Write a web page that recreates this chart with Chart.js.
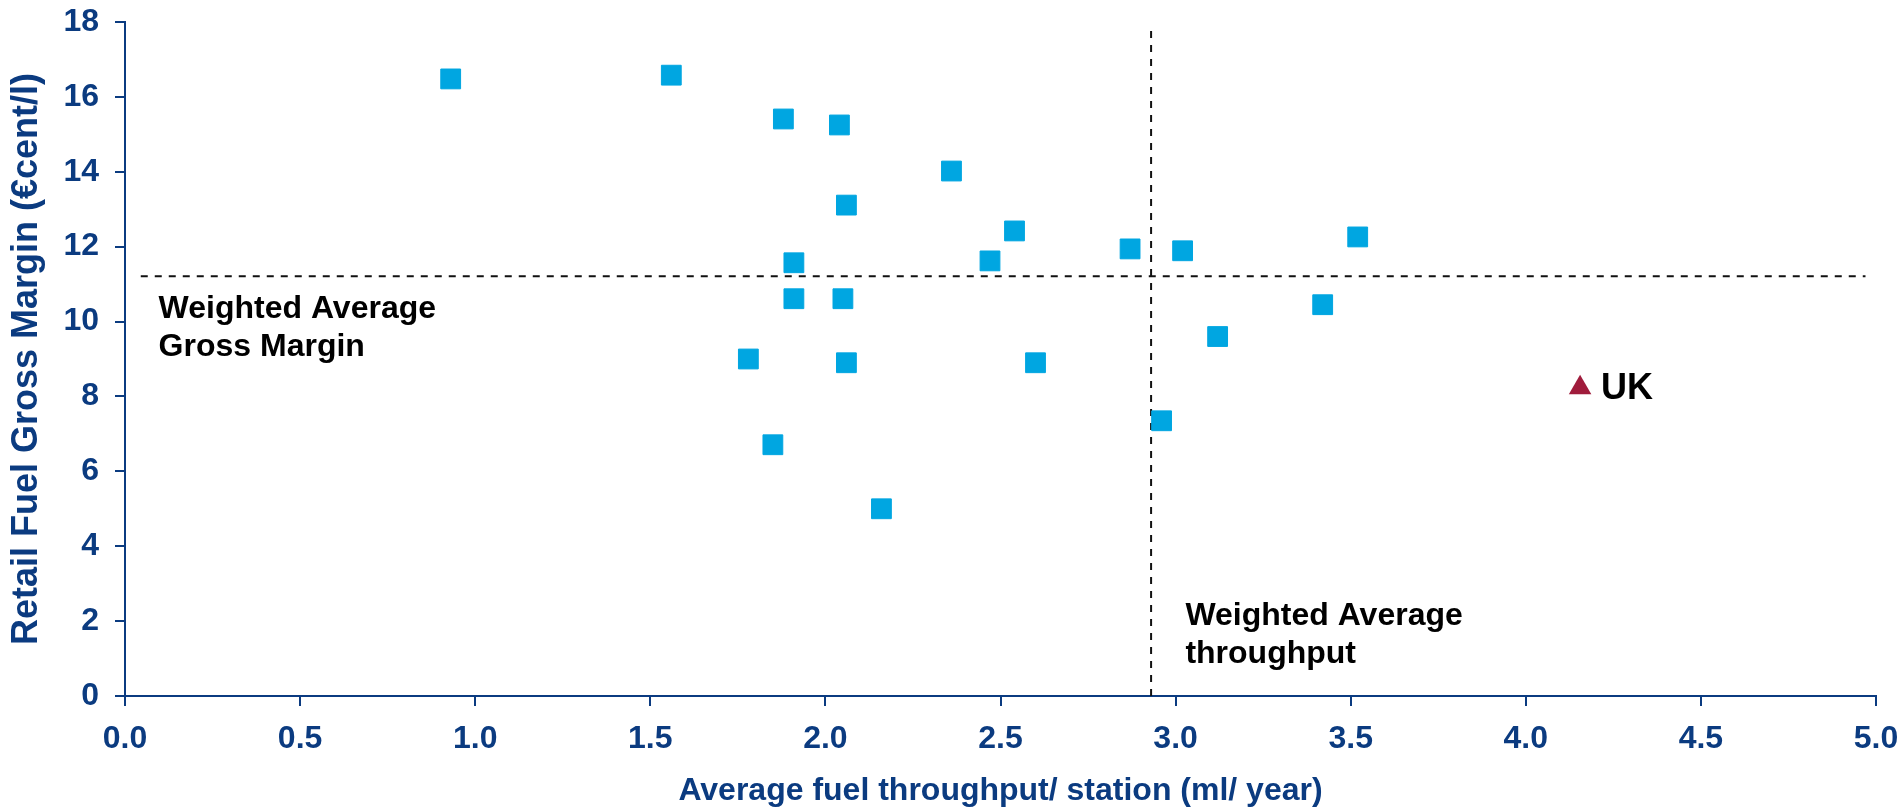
<!DOCTYPE html>
<html>
<head>
<meta charset="utf-8">
<script src="https://cdn.jsdelivr.net/npm/chart.js@4.4.1/dist/chart.umd.min.js"></script>
<style>
    html, body { margin: 0; padding: 0; background: #ffffff; }
    #wrap { width: 1899px; height: 807px; }
</style>
</head>
<body>
<div id="wrap"><canvas id="marginChart"></canvas></div>
<script>
// Average fuel throughput per station (ml/year) vs retail fuel gross margin (€cent/l)
const throughput = [0.93, 1.56, 1.88, 2.04, 2.36, 2.06, 2.54, 2.47, 1.91, 2.87, 1.91,
    2.05, 1.78, 2.06, 2.60, 2.96, 1.85, 2.16, 3.02, 3.52, 3.42, 3.12];
const grossMargin = [16.48, 16.58, 15.41, 15.25, 14.02, 13.11, 12.42, 11.62, 11.57, 11.94, 10.61,
    10.61, 9.00, 8.90, 8.90, 7.35, 6.71, 5.00, 11.89, 12.26, 10.45, 9.60];
const ukThroughput = [4.155];
const ukMargin = [8.23];
const ukLabel = 'UK';

// weighted averages (dashed reference lines)
const avgThroughput = 2.93;
const avgMargin = 11.21;
const avgThroughputRange = [0, 17.9];
const avgMarginRange = [0.045, 4.97];

const xTicks = [0, 0.5, 1, 1.5, 2, 2.5, 3, 3.5, 4, 4.5, 5];
const yTicks = [0, 2, 4, 6, 8, 10, 12, 14, 16, 18];

const marginNote = ['Weighted Average', 'Gross Margin'];
const throughputNote = ['Weighted Average', 'throughput'];

const NAVY = '#0b3b80';
const FONT = '"Liberation Sans", Arial, sans-serif';

// annotation text drawn straight onto the canvas
const notesPlugin = {
    id: 'notes',
    afterDatasetsDraw(chart) {
        const ctx = chart.ctx;
        const xs = chart.scales.x;
        const ys = chart.scales.y;
        ctx.save();
        ctx.fillStyle = '#000000';
        ctx.textBaseline = 'alphabetic';
        ctx.textAlign = 'left';
        ctx.font = 'bold 32px ' + FONT;

        let px = xs.getPixelForValue(0.096);
        let py = ys.getPixelForValue(10.1);
        marginNote.forEach((t, i) => ctx.fillText(t, px, py + i * 38));

        px = xs.getPixelForValue(3.028);
        py = ys.getPixelForValue(1.89);
        throughputNote.forEach((t, i) => ctx.fillText(t, px, py + i * 38));

        ctx.font = 'bold 36px ' + FONT;
        ctx.textBaseline = 'middle';
        ctx.fillText(ukLabel, xs.getPixelForValue(ukThroughput[0]) + 21, ys.getPixelForValue(ukMargin[0]) + 1);
        ctx.restore();
    }
};

const ctx = document.getElementById('marginChart').getContext('2d');
new Chart(ctx, {
    type: 'scatter',
    data: {
        datasets: [{
            label: 'Countries',
            data: throughput.map((x, i) => ({ x: x, y: grossMargin[i] })),
            backgroundColor: '#00a6e1',
            borderColor: '#00a6e1',
            borderWidth: 1,
            pointStyle: 'rect',
            pointRadius: 14,
            order: 1
        },
        {
            label: 'UK',
            data: ukThroughput.map((x, i) => ({ x: x, y: ukMargin[i] })),
            backgroundColor: '#a01c3c',
            borderColor: '#a01c3c',
            borderWidth: 0,
            pointStyle: 'triangle',
            pointRadius: 13,
            order: 1
        },
        {
            label: 'Weighted average throughput',
            data: avgThroughputRange.map(y => ({ x: avgThroughput, y: y })),
            showLine: true,
            borderColor: '#111111',
            borderWidth: 2,
            borderDash: [7, 7],
            pointRadius: 0,
            order: 2
        },
        {
            label: 'Weighted average gross margin',
            data: avgMarginRange.map(x => ({ x: x, y: avgMargin })),
            showLine: true,
            borderColor: '#111111',
            borderWidth: 2,
            borderDash: [7, 7],
            pointRadius: 0,
            order: 2
        }]
    },
    options: {
        responsive: true,
        maintainAspectRatio: false,
        animation: false,
        layout: {
            padding: { top: 22, right: 23, left: 0, bottom: 0 }
        },
        plugins: {
            legend: { display: false },
            tooltip: { enabled: false }
        },
        scales: {
            x: {
                type: 'linear',
                min: xTicks[0],
                max: xTicks[xTicks.length - 1],
                afterBuildTicks: scale => { scale.ticks = xTicks.map(v => ({ value: v })); },
                afterFit: scale => {
                    scale.height = 111;
                    scale.paddingLeft = 0;
                    scale.paddingRight = 0;
                },
                grid: { display: true, drawOnChartArea: false, color: NAVY, lineWidth: 2, tickLength: 10 },
                border: { display: true, color: NAVY, width: 2 },
                ticks: {
                    color: NAVY,
                    padding: 14,
                    font: { family: FONT, size: 32, weight: 'bold' },
                    callback: v => v.toFixed(1)
                },
                title: {
                    display: true,
                    text: 'Average fuel throughput/ station (ml/ year)',
                    color: NAVY,
                    font: { family: FONT, size: 32, weight: 'bold', lineHeight: 1.0 },
                    padding: { top: 0, bottom: 0 }
                }
            },
            y: {
                type: 'linear',
                min: yTicks[0],
                max: yTicks[yTicks.length - 1],
                afterBuildTicks: scale => { scale.ticks = yTicks.map(v => ({ value: v })); },
                afterFit: scale => {
                    scale.width = 125;
                    scale.paddingTop = 0;
                    scale.paddingBottom = 0;
                },
                grid: { display: true, drawOnChartArea: false, color: NAVY, lineWidth: 2, tickLength: 10 },
                border: { display: true, color: NAVY, width: 2 },
                ticks: {
                    color: NAVY,
                    padding: 16,
                    font: { family: FONT, size: 32, weight: 'bold' }
                },
                title: {
                    display: true,
                    text: 'Retail Fuel Gross Margin (€cent/l)',
                    color: NAVY,
                    font: { family: FONT, size: 36, weight: 'bold' },
                    padding: { top: 5, bottom: 0 }
                }
            }
        }
    },
    plugins: [notesPlugin]
});
</script>
</body>
</html>
